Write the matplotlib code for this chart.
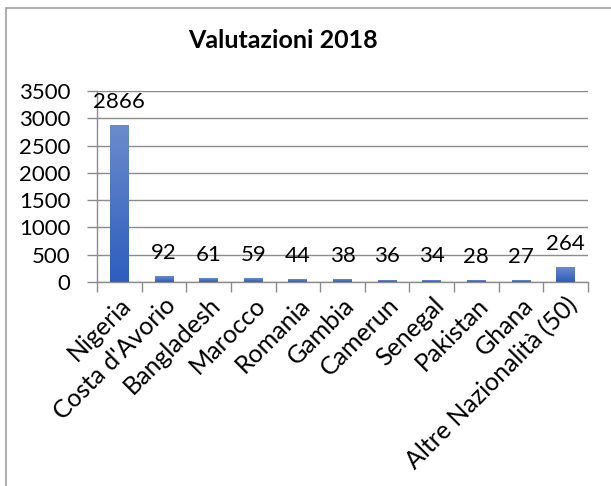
import matplotlib
matplotlib.use("Agg")
import matplotlib.pyplot as plt
import numpy as np
from matplotlib.patches import Rectangle
from matplotlib.colors import LinearSegmentedColormap

categories = ["Nigeria", "Costa d'Avorio", "Bangladesh", "Marocco", "Romania",
              "Gambia", "Camerun", "Senegal", "Pakistan", "Ghana",
              "Altre Nazionalità (50)"]
values = [2866, 92, 61, 59, 44, 38, 36, 34, 28, 27, 264]
yticks = [0, 500, 1000, 1500, 2000, 2500, 3000, 3500]
title = "Valutazioni 2018"

plt.rcParams['font.family'] = ['Lato', 'DejaVu Sans']

fig = plt.figure(figsize=(6.11, 4.86), dpi=100)
ax = fig.add_axes([97/611, 1-282/486, (588-97)/611, (282-91)/486])

x = np.arange(len(categories))
bars = ax.bar(x, values, width=0.42, color='#3A67C4', zorder=3)

# gradient fill
grad = np.linspace(0, 1, 256).reshape(-1, 1)
cmap = LinearSegmentedColormap.from_list('g', ['#2E5DBE', '#6B8BCC'])
for b in bars:
    bx, by = b.get_x(), b.get_y()
    w, h = b.get_width(), b.get_height()
    ax.imshow(grad, extent=[bx, bx + w, by, by + h], origin='lower',
              cmap=cmap, aspect='auto', zorder=4)
ax.set_xlim(-0.5, len(categories) - 0.5)
ax.set_ylim(0, 3500)

for xi, v in zip(x, values):
    ax.annotate(str(v), (xi, v), xytext=(0, 10), textcoords='offset points',
                ha='center', va='bottom', fontsize=16, zorder=5)

ax.set_yticks(yticks)
ax.set_yticklabels([str(t) for t in yticks], fontsize=16)
ax.set_xticks(x)
ax.set_xticklabels(categories, rotation=45, ha='right', rotation_mode='anchor',
                   fontsize=18)
ax.tick_params(axis='x', length=0, pad=8)
ax.set_xticks(np.arange(-0.5, len(categories), 1), minor=True)
ax.tick_params(axis='x', which='minor', length=7, color='#8C8C8C', width=1)
ax.tick_params(axis='y', length=7, color='#8C8C8C', width=1, pad=12)

ax.grid(axis='y', color='#8C8C8C', linewidth=1, zorder=0)
for s in ['top', 'right']:
    ax.spines[s].set_visible(False)
for s in ['left', 'bottom']:
    ax.spines[s].set_color('#8C8C8C')
    ax.spines[s].set_linewidth(1)

fig.text(283/611, 1-41/486, title, ha='center', va='center',
         fontsize=18, fontweight='bold')

fig.patches.append(Rectangle((6/611, -0.05), 1.1, 1-8/486 + 0.05,
                             transform=fig.transFigure, fill=False,
                             edgecolor='#A0A0A0', linewidth=1.2))

fig.savefig("out.png", dpi=100)
